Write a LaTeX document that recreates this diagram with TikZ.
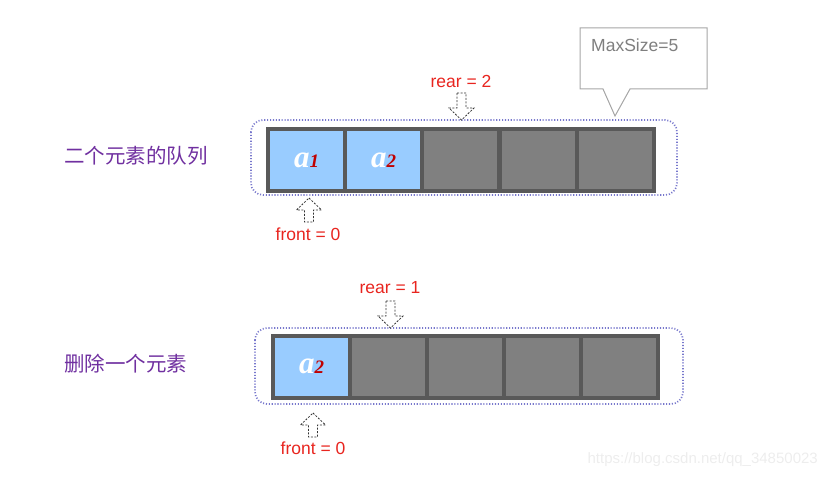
\documentclass[tikz,border=0pt]{standalone}
\usepackage{fontspec}
\setmainfont{Liberation Sans}
\newfontfamily\cjkfont{Noto Sans CJK SC}
\newfontfamily\serifbi[BoldItalicFont={* Bold Italic}]{Liberation Serif}
\definecolor{cellblue}{HTML}{99CCFF}
\definecolor{cellgray}{HTML}{808080}
\definecolor{celledge}{HTML}{595959}
\definecolor{dotblue}{HTML}{7878CC}
\definecolor{lblpurple}{HTML}{7030A0}
\definecolor{lblred}{HTML}{E8251F}
\definecolor{subred}{HTML}{C00000}
\definecolor{calloutgray}{HTML}{A6A6A6}
\definecolor{callouttext}{HTML}{7F7F7F}
\tikzset{
  cellbox/.style={draw=celledge, line width=4pt, minimum width=77pt, minimum height=62pt, inner sep=0pt, outer sep=0pt, anchor=north west},
  fullcell/.style={cellbox, fill=cellblue},
  emptycell/.style={cellbox, fill=cellgray},
  groupbox/.style={draw=dotblue, line width=1.7pt, dash pattern=on 1.1pt off 1.8pt, rounded corners=12pt},
  redlbl/.style={text=lblred, font=\fontsize{17.5}{20}\selectfont, inner sep=0pt},
  sidelbl/.style={text=lblpurple, font=\cjkfont\fontsize{20.5}{23}\selectfont, inner sep=0pt, anchor=west},
  blockarrow/.style={draw=black!80, dash pattern=on 2pt off 1.5pt, line width=0.8pt, fill=white},
}
\newcommand{\elem}[1]{{\serifbi\bfseries\itshape\textcolor{white}{\fontsize{31}{31}\selectfont a}\textcolor{subred}{\fontsize{19}{19}\selectfont #1}}}
\newcommand{\downarrowat}[2]{% center x, top y
  \draw[blockarrow] (#1-4.5,#2) -- (#1+4.5,#2) -- (#1+4.5,#2+15) -- (#1+12.5,#2+15) -- (#1,#2+27) -- (#1-12.5,#2+15) -- (#1-4.5,#2+15) -- cycle;}
\newcommand{\uparrowat}[2]{% center x, top y
  \draw[blockarrow] (#1,#2) -- (#1+12.5,#2+12) -- (#1+4.5,#2+12) -- (#1+4.5,#2+24) -- (#1-4.5,#2+24) -- (#1-4.5,#2+12) -- (#1-12.5,#2+12) -- cycle;}
\begin{document}
\begin{tikzpicture}[x=1pt,y=-1pt]
\useasboundingbox (0,0) rectangle (827,478);
% ===== top queue =====
\node[sidelbl] (lblA) at (64,156) {二个元素的队列};
\draw[groupbox] (251,120) rectangle (677,195);
\node[fullcell]  (t1) at (268.0,129) {\elem{1}};
\node[fullcell]  (t2) at (345.2,129) {\elem{2}};
\node[emptycell] (t3) at (422.4,129) {};
\node[emptycell] (t4) at (499.6,129) {};
\node[emptycell] (t5) at (576.8,129) {};
% rear / front markers
\node[redlbl] (rearA) at (461,81) {rear = 2};
\downarrowat{461.5}{93}
\uparrowat{309}{198}
\node[redlbl] (frontA) at (308,234) {front = 0};
% callout
\draw[draw=calloutgray, line width=1pt, fill=white] (580,28) -- (707,28) -- (707,89) -- (630,89) -- (615,116) -- (603,89) -- (580,89) -- cycle;
\node[text=callouttext, font=\fontsize{17.5}{20}\selectfont, inner sep=0pt, anchor=west] (maxsz) at (591,45) {MaxSize=5};
% ===== bottom queue =====
\node[sidelbl] (lblB) at (64,364) {删除一个元素};
\draw[groupbox] (255,328) rectangle (683,404);
\node[fullcell]  (b1) at (273,335.5) {\elem{2}};
\node[emptycell] (b2) at (350,335.5) {};
\node[emptycell] (b3) at (427,335.5) {};
\node[emptycell] (b4) at (504,335.5) {};
\node[emptycell] (b5) at (581,335.5) {};
\node[redlbl] (rearB) at (390,288) {rear = 1};
\downarrowat{390.5}{301}
\uparrowat{313}{413}
\node[redlbl] (frontB) at (313,448) {front = 0};
% watermark
\node[text=black!7, font=\fontsize{15}{18}\selectfont, inner sep=0pt, anchor=east] (wm) at (818,460) {https://blog.csdn.net/qq\_34850023};
\end{tikzpicture}
\end{document}
